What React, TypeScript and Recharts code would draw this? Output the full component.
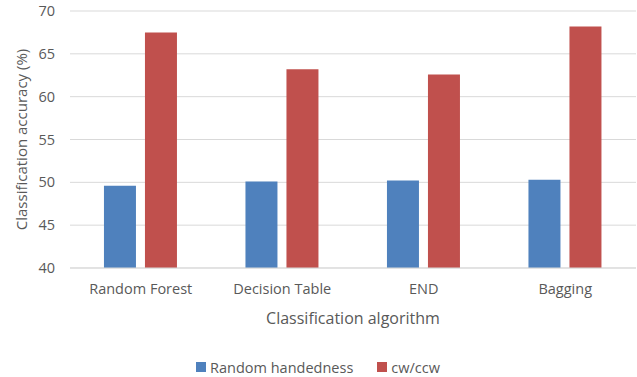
import { BarChart, Bar, XAxis, YAxis, CartesianGrid, Legend, Label } from 'recharts';

const algorithms = ['Random Forest', 'Decision Table', 'END', 'Bagging'];
const randomHandedness = [49.6, 50.1, 50.2, 50.3];
const cwCcw = [67.5, 63.2, 62.6, 68.2];
const yTicks = [40, 45, 50, 55, 60, 65, 70];

const data = algorithms.map((name, i) => ({
    name,
    random: randomHandedness[i],
    cw: cwCcw[i],
}));

const FONT = '"Open Sans", sans-serif';
const TEXT = '#595959';
const BLUE = '#4F81BD';
const RED = '#C0504D';

function YTitle(props: any) {
    const vb = props.viewBox;
    const cx = vb.x + 21;
    const cy = vb.y + vb.height / 2;
    return (
        <text
            x={cx}
            y={cy}
            transform={`rotate(-90, ${cx}, ${cy})`}
            textAnchor="middle"
            dominantBaseline="central"
            fill={TEXT}
            fontSize={15}
            fontFamily={FONT}
        >
            Classification accuracy (%)
        </text>
    );
}

function XTitle(props: any) {
    const vb = props.viewBox;
    return (
        <text
            x={vb.x + vb.width / 2}
            y={318}
            textAnchor="middle"
            dominantBaseline="central"
            fill={TEXT}
            fontSize={16}
            fontFamily={FONT}
        >
            Classification algorithm
        </text>
    );
}

function LegendBox() {
    const items = [
        { label: 'Random handedness', color: BLUE },
        { label: 'cw/ccw', color: RED },
    ];
    return (
        <div style={{ height: 20, display: 'flex', justifyContent: 'center', alignItems: 'center', gap: 24, fontFamily: FONT, fontSize: 14.5, color: TEXT }}>
            {items.map((it) => (
                <div key={it.label} style={{ display: 'flex', alignItems: 'center', gap: 4 }}>
                    <span style={{ width: 10, height: 10, background: it.color, display: 'inline-block' }} />
                    <span>{it.label}</span>
                </div>
            ))}
        </div>
    );
}

export default function App() {
    return (
        <div style={{ position: 'fixed', left: 0, top: 0, background: '#fff' }}>
            <BarChart
                width={637}
                height={377}
                data={data}
                margin={{ top: 11, right: 1, left: 0, bottom: 0 }}
                barCategoryGap="24%"
                barGap={9}
            >
                <CartesianGrid vertical={false} stroke="#D9D9D9" />
                <XAxis
                    dataKey="name"
                    height={89}
                    tickLine={false}
                    axisLine={{ stroke: '#D9D9D9' }}
                    tickMargin={10}
                    tick={{ fill: TEXT, fontSize: 14.5, fontFamily: FONT }}
                    interval={0}
                >
                    <Label content={XTitle} />
                </XAxis>
                <YAxis
                    width={70}
                    domain={[40, 70]}
                    ticks={yTicks}
                    allowDataOverflow
                    tickLine={false}
                    axisLine={false}
                    tickMargin={9}
                    tick={{ fill: TEXT, fontSize: 14.5, fontFamily: FONT }}
                >
                    <Label content={YTitle} />
                </YAxis>
                <Legend verticalAlign="bottom" content={LegendBox} wrapperStyle={{ bottom: 0 }} />
                <Bar dataKey="random" name="Random handedness" fill={BLUE} isAnimationActive={false} />
                <Bar dataKey="cw" name="cw/ccw" fill={RED} isAnimationActive={false} />
            </BarChart>
        </div>
    );
}
